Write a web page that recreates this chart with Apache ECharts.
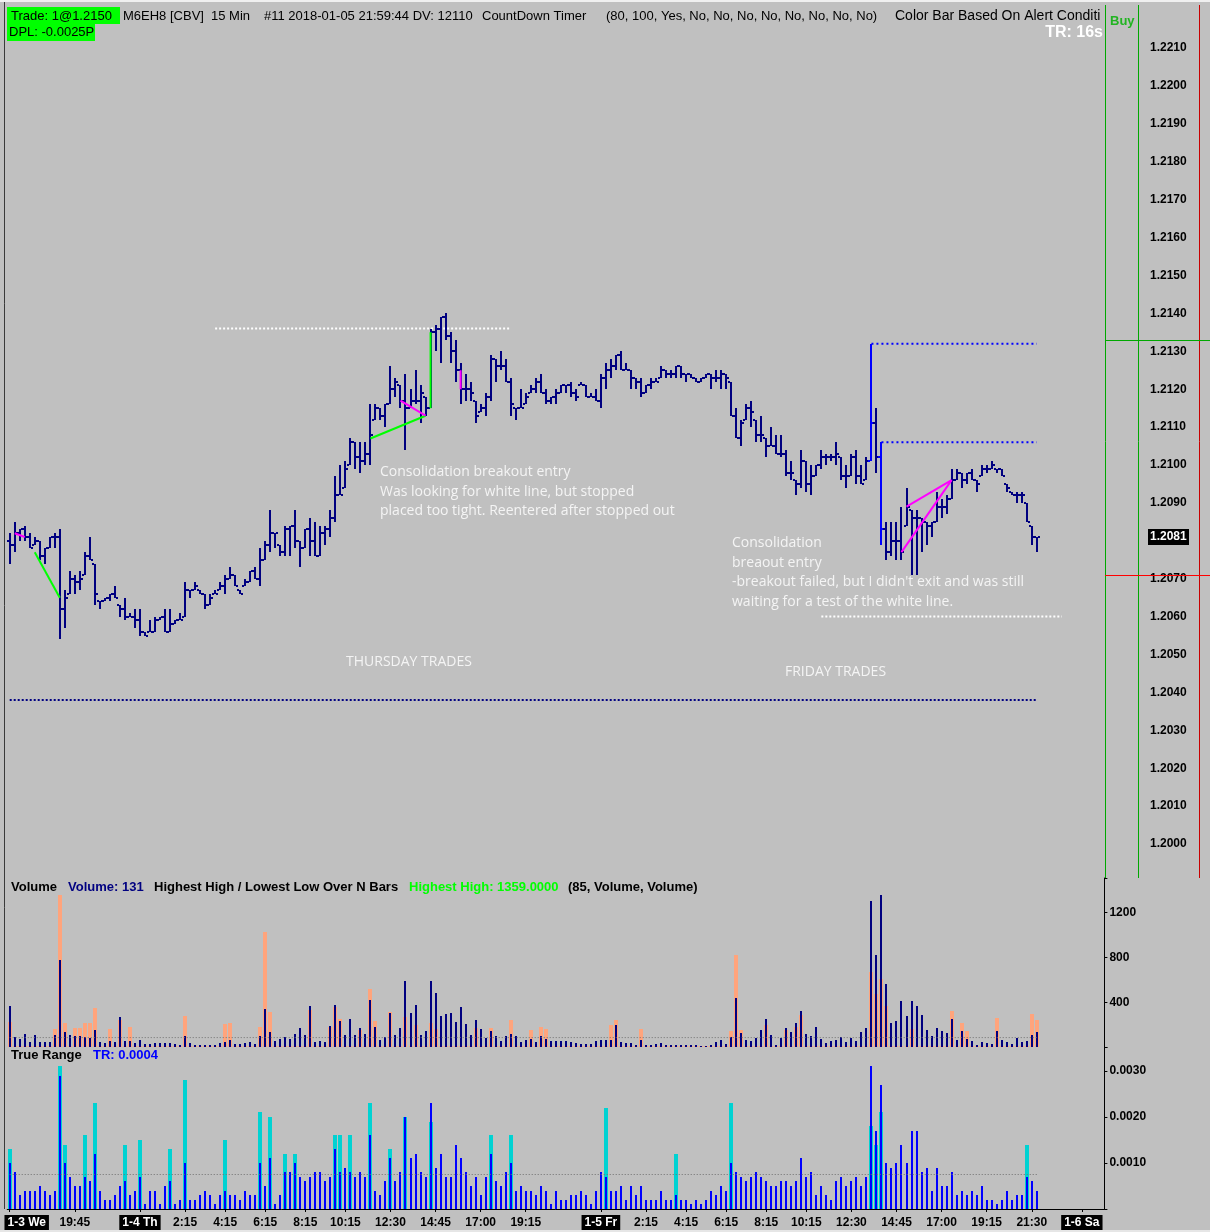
<!DOCTYPE html>
<html>
<head>
<meta charset="utf-8">
<title>M6EH8 15 Min</title>
<script src="https://cdn.jsdelivr.net/npm/echarts@6.0.0/dist/echarts.min.js"></script>
<style>
html,body{margin:0;padding:0;background:#c0c0c0;overflow:hidden;}
#chart{width:1210px;height:1232px;}
</style>
</head>
<body>
<div id="chart"></div>
<script>
// ---------------- DATA ----------------
const opens = [1.2080,1.2079,1.2082,1.2083,1.2081,1.2079,1.2080,1.2076,1.2078,1.2081,
1.2081,1.2062,1.2066,1.2070,1.2069,1.2071,1.2076,1.2074,1.2064,1.2064,
1.2065,1.2066,1.2063,1.2062,1.2060,1.2060,1.2059,1.2056,1.2056,1.2056,
1.2059,1.2060,1.2056,1.2058,1.2059,1.2060,1.2067,1.2067,1.2067,1.2066,
1.2063,1.2066,1.2067,1.2068,1.2070,1.2071,1.2067,1.2068,1.2069,1.2072,
1.2070,1.2075,1.2079,1.2082,1.2079,1.2077,1.2083,1.2084,1.2080,1.2078,
1.2083,1.2080,1.2076,1.2082,1.2083,1.2086,1.2092,1.2094,1.2100,1.2106,
1.2102,1.2101,1.2103,1.2112,1.2115,1.2113,1.2116,1.2120,1.2121,1.2117,
1.2115,1.2117,1.2117,1.2118,1.2115,1.2135,1.2136,1.2139,1.2134,1.2130,
1.2125,1.2120,1.2120,1.2117,1.2114,1.2115,1.2118,1.2128,1.2126,1.2126,
1.2122,1.2115,1.2115,1.2116,1.2119,1.2120,1.2122,1.2119,1.2117,1.2118,
1.2119,1.2121,1.2121,1.2119,1.2121,1.2121,1.2118,1.2118,1.2117,1.2123,
1.2125,1.2126,1.2129,1.2125,1.2125,1.2123,1.2122,1.2119,1.2121,1.2122,
1.2123,1.2125,1.2124,1.2124,1.2126,1.2124,1.2124,1.2123,1.2122,1.2123,
1.2124,1.2123,1.2123,1.2124,1.2122,1.2113,1.2107,1.2112,1.2115,1.2112,
1.2108,1.2107,1.2105,1.2105,1.2103,1.2103,1.2098,1.2096,1.2095,1.2101,
1.2095,1.2097,1.2100,1.2102,1.2102,1.2102,1.2102,1.2097,1.2097,1.2102,
1.2097,1.2096,1.2101,1.2111,1.2102,1.2083,1.2077,1.2080,1.2080,1.2084,
1.2088,1.2086,1.2086,1.2085,1.2084,1.2085,1.2089,1.2089,1.2091,1.2096,
1.2098,1.2096,1.2098,1.2096,1.2097,1.2099,1.2099,1.2099,1.2099,1.2095,
1.2093,1.2092,1.2092,1.2090,1.2084,1.2081];
const highs = [1.2082,1.2085,1.2083,1.2084,1.2082,1.2081,1.2080,1.2078,1.2081,1.2082,
1.2083,1.2067,1.2072,1.2071,1.2072,1.2077,1.2081,1.2074,1.2064,1.2065,
1.2066,1.2068,1.2063,1.2065,1.2061,1.2062,1.2062,1.2056,1.2059,1.2060,
1.2060,1.2062,1.2062,1.2059,1.2061,1.2069,1.2067,1.2069,1.2067,1.2066,
1.2066,1.2067,1.2069,1.2071,1.2073,1.2071,1.2067,1.2070,1.2072,1.2073,
1.2078,1.2080,1.2088,1.2082,1.2079,1.2084,1.2084,1.2088,1.2080,1.2083,
1.2086,1.2085,1.2084,1.2084,1.2088,1.2097,1.2100,1.2101,1.2107,1.2106,
1.2106,1.2106,1.2116,1.2116,1.2115,1.2116,1.2126,1.2123,1.2121,1.2124,
1.2120,1.2125,1.2121,1.2118,1.2136,1.2137,1.2139,1.2140,1.2135,1.2133,
1.2127,1.2124,1.2122,1.2117,1.2116,1.2119,1.2129,1.2128,1.2130,1.2128,
1.2123,1.2115,1.2120,1.2119,1.2121,1.2123,1.2124,1.2120,1.2118,1.2120,
1.2121,1.2121,1.2122,1.2120,1.2122,1.2121,1.2119,1.2120,1.2124,1.2127,
1.2128,1.2129,1.2130,1.2127,1.2125,1.2123,1.2123,1.2121,1.2123,1.2123,
1.2126,1.2125,1.2125,1.2126,1.2126,1.2124,1.2124,1.2123,1.2123,1.2124,
1.2124,1.2125,1.2125,1.2124,1.2122,1.2115,1.2112,1.2116,1.2117,1.2112,
1.2113,1.2107,1.2110,1.2108,1.2108,1.2104,1.2101,1.2096,1.2104,1.2101,
1.2100,1.2100,1.2104,1.2103,1.2103,1.2106,1.2102,1.2100,1.2103,1.2104,
1.2100,1.2102,1.2132,1.2115,1.2106,1.2085,1.2085,1.2085,1.2089,1.2094,
1.2088,1.2088,1.2086,1.2085,1.2085,1.2093,1.2091,1.2092,1.2099,1.2099,
1.2098,1.2098,1.2099,1.2096,1.2100,1.2100,1.2101,1.2099,1.2099,1.2095,
1.2093,1.2093,1.2093,1.2090,1.2084,1.2081];
const lows = [1.2074,1.2077,1.2080,1.2080,1.2078,1.2079,1.2075,1.2074,1.2078,1.2078,
1.2054,1.2057,1.2066,1.2066,1.2067,1.2071,1.2075,1.2063,1.2062,1.2064,
1.2064,1.2065,1.2060,1.2059,1.2060,1.2057,1.2055,1.2055,1.2056,1.2056,
1.2059,1.2056,1.2056,1.2058,1.2059,1.2060,1.2065,1.2067,1.2066,1.2062,
1.2063,1.2066,1.2067,1.2066,1.2070,1.2068,1.2066,1.2068,1.2069,1.2070,
1.2068,1.2075,1.2077,1.2078,1.2076,1.2076,1.2076,1.2078,1.2073,1.2078,
1.2076,1.2076,1.2076,1.2079,1.2081,1.2085,1.2092,1.2094,1.2100,1.2099,
1.2098,1.2100,1.2100,1.2112,1.2112,1.2110,1.2116,1.2118,1.2115,1.2104,
1.2115,1.2116,1.2111,1.2113,1.2115,1.2130,1.2127,1.2133,1.2127,1.2122,
1.2116,1.2117,1.2117,1.2111,1.2114,1.2113,1.2117,1.2122,1.2125,1.2122,
1.2113,1.2112,1.2115,1.2116,1.2119,1.2119,1.2119,1.2116,1.2116,1.2116,
1.2119,1.2119,1.2118,1.2117,1.2121,1.2118,1.2118,1.2117,1.2115,1.2120,
1.2123,1.2125,1.2125,1.2125,1.2120,1.2120,1.2118,1.2119,1.2120,1.2122,
1.2123,1.2123,1.2123,1.2123,1.2123,1.2122,1.2123,1.2122,1.2122,1.2123,
1.2120,1.2122,1.2120,1.2120,1.2113,1.2107,1.2105,1.2112,1.2110,1.2106,
1.2106,1.2102,1.2105,1.2103,1.2102,1.2097,1.2096,1.2092,1.2094,1.2093,
1.2092,1.2097,1.2099,1.2100,1.2101,1.2100,1.2096,1.2094,1.2097,1.2095,
1.2095,1.2096,1.2101,1.2098,1.2079,1.2075,1.2076,1.2075,1.2075,1.2084,
1.2071,1.2071,1.2077,1.2079,1.2081,1.2085,1.2086,1.2087,1.2091,1.2096,
1.2094,1.2095,1.2096,1.2093,1.2097,1.2098,1.2099,1.2098,1.2097,1.2093,
1.2092,1.2090,1.2090,1.2085,1.2079,1.2077];
const closes = [1.2079,1.2082,1.2083,1.2081,1.2078,1.2080,1.2076,1.2078,1.2081,1.2081,
1.2062,1.2065,1.2070,1.2069,1.2070,1.2076,1.2075,1.2066,1.2064,1.2065,
1.2066,1.2065,1.2062,1.2060,1.2060,1.2059,1.2056,1.2055,1.2056,1.2059,
1.2060,1.2056,1.2058,1.2059,1.2059,1.2067,1.2067,1.2068,1.2066,1.2063,
1.2065,1.2066,1.2068,1.2070,1.2071,1.2068,1.2066,1.2069,1.2072,1.2070,
1.2075,1.2079,1.2082,1.2082,1.2077,1.2083,1.2084,1.2080,1.2078,1.2083,
1.2080,1.2076,1.2082,1.2083,1.2086,1.2092,1.2092,1.2099,1.2106,1.2102,
1.2101,1.2103,1.2108,1.2115,1.2113,1.2116,1.2120,1.2122,1.2117,1.2115,
1.2117,1.2117,1.2119,1.2115,1.2135,1.2136,1.2139,1.2134,1.2130,1.2125,
1.2120,1.2120,1.2119,1.2113,1.2115,1.2118,1.2128,1.2126,1.2126,1.2122,
1.2116,1.2115,1.2115,1.2118,1.2120,1.2122,1.2119,1.2117,1.2118,1.2119,
1.2121,1.2121,1.2119,1.2118,1.2121,1.2118,1.2118,1.2117,1.2123,1.2125,
1.2126,1.2129,1.2125,1.2125,1.2123,1.2122,1.2119,1.2121,1.2122,1.2122,
1.2125,1.2124,1.2124,1.2126,1.2124,1.2124,1.2123,1.2122,1.2123,1.2124,
1.2123,1.2123,1.2124,1.2123,1.2113,1.2107,1.2111,1.2115,1.2114,1.2108,
1.2108,1.2105,1.2105,1.2103,1.2103,1.2098,1.2098,1.2095,1.2101,1.2095,
1.2097,1.2100,1.2102,1.2102,1.2102,1.2103,1.2097,1.2097,1.2102,1.2097,
1.2095,1.2101,1.2111,1.2102,1.2083,1.2077,1.2080,1.2080,1.2077,1.2089,
1.2086,1.2086,1.2085,1.2084,1.2085,1.2089,1.2089,1.2091,1.2096,1.2098,
1.2096,1.2098,1.2096,1.2095,1.2099,1.2099,1.2100,1.2099,1.2097,1.2094,
1.2092,1.2092,1.2092,1.2085,1.2081,1.2081];
// bars painted by "Color Bar Based On Alert Condition"
const alertBars = [172, 174];

const volume = [367,93,72,117,48,108,48,48,48,108,
778,135,108,102,99,87,84,153,48,33,
54,48,269,54,54,39,63,28,28,33,
39,39,39,28,22,99,33,22,22,22,
16,22,39,45,63,28,28,33,45,28,
99,340,135,57,72,87,72,117,170,108,
367,45,51,45,188,376,236,111,251,111,
170,117,420,179,63,87,307,111,170,593,
304,376,111,144,593,483,280,298,304,224,
358,206,111,242,161,81,144,102,51,102,
117,102,45,63,72,45,102,72,54,54,
54,54,45,36,28,28,28,54,63,63,
63,197,45,36,36,22,63,22,22,28,
36,22,22,22,22,22,22,22,13,13,
22,45,63,28,93,441,129,63,54,84,
153,251,111,22,84,173,135,215,322,117,
99,179,72,36,54,63,90,45,81,54,
135,170,1304,822,1359,563,215,233,411,277,
411,367,286,153,99,170,144,126,251,63,
144,72,54,19,45,36,28,144,63,45,
28,81,45,54,108,131];
const volumeHighlight = [227,0,0,0,0,0,0,0,0,158,
1358,212,0,173,173,212,212,352,0,0,
158,0,242,0,176,0,0,0,0,0,
0,0,0,0,0,277,0,0,0,0,
0,0,0,206,212,0,0,0,0,0,
176,1027,310,0,0,0,0,0,0,0,
331,0,0,0,176,355,251,0,0,0,
153,0,519,233,0,0,316,0,0,266,
0,197,0,0,218,158,0,0,0,0,
0,0,0,167,0,0,170,0,0,0,
242,0,0,0,153,0,176,158,0,0,
0,0,0,0,0,0,0,0,0,0,
197,242,0,0,0,0,158,0,0,0,
0,0,0,0,0,0,0,0,0,0,
0,0,0,0,141,822,153,0,0,0,
0,197,0,0,0,153,0,182,286,0,
0,0,0,0,0,0,0,0,0,0,
0,0,673,474,605,367,0,0,0,0,
161,0,0,0,0,0,0,0,322,0,
212,144,0,0,0,0,0,263,0,0,
0,0,0,0,295,242];
const volumeRefLevel = 85;

const trueRange = [0.0010,0.0008,0.0003,0.0004,0.0004,0.0004,0.0005,0.0004,0.0003,0.0004,
0.0029,0.0010,0.0007,0.0005,0.0005,0.0007,0.0006,0.0012,0.0004,0.0002,
0.0002,0.0003,0.0005,0.0006,0.0003,0.0004,0.0007,0.0001,0.0004,0.0004,
0.0001,0.0005,0.0006,0.0001,0.0002,0.0010,0.0002,0.0002,0.0003,0.0004,
0.0003,0.0001,0.0003,0.0004,0.0003,0.0003,0.0002,0.0004,0.0003,0.0003,
0.0010,0.0005,0.0011,0.0001,0.0003,0.0008,0.0008,0.0010,0.0007,0.0006,
0.0007,0.0008,0.0008,0.0006,0.0007,0.0013,0.0008,0.0009,0.0008,0.0007,
0.0008,0.0007,0.0016,0.0004,0.0003,0.0006,0.0011,0.0006,0.0008,0.0020,
0.0011,0.0012,0.0008,0.0007,0.0023,0.0009,0.0012,0.0007,0.0007,0.0014,
0.0011,0.0008,0.0005,0.0007,0.0003,0.0007,0.0012,0.0006,0.0005,0.0008,
0.0010,0.0004,0.0005,0.0004,0.0004,0.0003,0.0005,0.0004,0.0001,0.0004,
0.0002,0.0002,0.0003,0.0003,0.0004,0.0003,0.0001,0.0004,0.0008,0.0007,
0.0004,0.0004,0.0005,0.0002,0.0005,0.0003,0.0005,0.0002,0.0002,0.0002,
0.0004,0.0002,0.0002,0.0003,0.0002,0.0002,0.0001,0.0002,0.0001,0.0002,
0.0004,0.0003,0.0005,0.0004,0.0010,0.0008,0.0007,0.0006,0.0007,0.0008,
0.0007,0.0006,0.0005,0.0005,0.0006,0.0006,0.0005,0.0006,0.0011,0.0007,
0.0008,0.0003,0.0005,0.0003,0.0002,0.0006,0.0007,0.0005,0.0006,0.0007,
0.0005,0.0007,0.0031,0.0017,0.0027,0.0010,0.0009,0.0010,0.0014,0.0010,
0.0017,0.0017,0.0008,0.0009,0.0004,0.0009,0.0005,0.0005,0.0008,0.0003,
0.0004,0.0003,0.0004,0.0003,0.0005,0.0002,0.0002,0.0001,0.0002,0.0004,
0.0002,0.0003,0.0003,0.0007,0.0006,0.0004];
const trueRangeHighlight = [0.0013,0,0,0,0,0,0,0,0,0,
0.0031,0.0014,0,0,0,0.0016,0,0.0023,0,0,
0,0,0,0.0014,0,0,0.0015,0,0,0,
0,0,0.0013,0,0,0.0028,0,0,0,0,
0,0,0,0.0015,0,0,0,0,0,0,
0.0021,0,0.0020,0,0,0.0012,0,0.0012,0,0,
0,0,0,0,0,0.0016,0.0016,0,0.0016,0,
0,0,0.0023,0,0,0,0.0013,0,0,0.0020,
0,0,0,0,0.0019,0,0,0,0,0,
0,0,0,0,0,0,0.0016,0,0,0,
0.0016,0,0,0,0,0,0,0,0,0,
0,0,0,0,0,0,0,0,0,0.0022,
0,0,0,0,0,0,0,0,0,0,
0,0,0,0.0012,0,0,0,0,0,0,
0,0,0,0,0.0023,0,0,0,0,0,
0,0,0,0,0,0,0,0,0,0,
0,0,0,0,0,0,0,0,0,0,
0,0,0.0018,0.0014,0.0021,0,0,0,0,0,
0,0,0,0,0,0,0,0,0,0,
0,0,0,0,0,0,0,0,0,0,
0,0,0,0.0014,0,0];
const trueRangeRefLevel = 0.00075;

// x slots (15-minute bars plus empty future slots) and time-axis tick labels
const slotCount = 219;
const tickIndex = [0,13,26,35,43,51,59,67,76,85,94,103,118,127,135,143,151,159,168,177,186,195,204,214];
const tickText = ['1-3 We','19:45','1-4 Th','2:15','4:15','6:15','8:15','10:15','12:30','14:45','17:00','19:15',
                  '1-5 Fr','2:15','4:15','6:15','8:15','10:15','12:30','14:45','17:00','19:15','21:30','1-6 Sa'];

// trade connector lines: [fromBar, fromPrice, toBar, toPrice]
const tradeSegments = [[1,1.2082,3,1.2081],[5,1.2077,10,1.2065],[72,1.2107,83,1.2113],[78,1.2117,83,1.2113],
                       [84,1.2115,84,1.2135],[90,1.2125,90,1.2120],[179,1.2089,188,1.2096],[178,1.2077,188,1.2096]];
const tradeKinds = ['short','long','long','short','long','short','short','short'];
// horizontal reference levels: [fromBar, toBar, price]
const levelSegments = [[41,100,1.2136],[162,210,1.2060],[0,205,1.2038],[172,205,1.2132],[174,205,1.2106]];
const levelKinds = ['white','white','navy','alert','alert'];
const orderBuyPrice = 1.2133;
const orderStopPrice = 1.2071;

// ---------------- CHART ----------------
const FONT = '"Liberation Sans", Arial, sans-serif';
const ANNO_FONT = '"Open Sans", "Noto Sans", sans-serif';
const chart = echarts.init(document.getElementById('chart'), null, {renderer: 'canvas'});
const cats = Array.from({length: slotCount}, (_, i) => String(i));
const tickSet = new Set(tickIndex);
const tickMap = {};
tickIndex.forEach((t, k) => { tickMap[t] = tickText[k]; });

const ohlcData = opens.map((o, i) => [i, o, highs[i], lows[i], closes[i]]);

function renderOHLC(params, api) {
  const i = api.value(0);
  const pO = api.coord([i, api.value(1)]);
  const pH = api.coord([i, api.value(2)]);
  const pL = api.coord([i, api.value(3)]);
  const pC = api.coord([i, api.value(4)]);
  const x = Math.round(pH[0]);
  const color = alertBars.indexOf(i) >= 0 ? '#0000ff' : '#000080';
  const top = Math.round(pH[1]);
  const h = Math.max(Math.round(pL[1]) - top, 2);
  return {type: 'group', children: [
    {type: 'rect', shape: {x: x - 1, y: top, width: 2, height: h}, style: {fill: color}},
    {type: 'rect', shape: {x: x - 3, y: Math.round(pO[1]) - 1, width: 2, height: 2}, style: {fill: color}},
    {type: 'rect', shape: {x: x + 1, y: Math.round(pC[1]) - 1, width: 2, height: 2}, style: {fill: color}}
  ]};
}
function histRenderer(width, color, drawZero) {
  return function (params, api) {
    const v = api.value(1);
    if (!v && !drawZero) return null;
    const p = api.coord([api.value(0), v]);
    const b = api.coord([api.value(0), 0]);
    const base = Math.round(b[1]);
    const hgt = Math.max(base - Math.round(p[1]), 1);
    return {type: 'rect', shape: {x: Math.round(p[0] - width / 2), y: base - hgt, width: width, height: hgt}, style: {fill: color}};
  };
}

const series = [];
series.push({type: 'custom', name: 'M6EH8', xAxisIndex: 0, yAxisIndex: 0, renderItem: renderOHLC,
  data: ohlcData, encode: {x: 0, y: [1, 2, 3, 4]}, z: 5, silent: true});

const levelStyle = {
  white: {color: '#ffffff', width: 2, type: [2, 2]},
  navy: {color: '#000080', width: 2, type: [2, 2]},
  alert: {color: '#0000ff', width: 2, type: [2, 3]}
};
levelSegments.forEach((s, k) => {
  series.push({type: 'line', xAxisIndex: 0, yAxisIndex: 0, data: [[s[0], s[2]], [s[1], s[2]]],
    showSymbol: false, symbol: 'none', lineStyle: levelStyle[levelKinds[k]], silent: true, z: 3, animation: false});
});
const tradeColor = {long: '#00ff00', short: '#ff00ff'};
tradeSegments.forEach((s, k) => {
  series.push({type: 'line', xAxisIndex: 0, yAxisIndex: 0, data: [[s[0], s[1]], [s[2], s[3]]],
    showSymbol: false, symbol: 'none', lineStyle: {color: tradeColor[tradeKinds[k]], width: 2}, silent: true, z: 6, animation: false});
});

series.push({type: 'custom', xAxisIndex: 1, yAxisIndex: 1, renderItem: histRenderer(4, '#ffa47c', true),
  data: volumeHighlight.map((v, i) => [i, v]), encode: {x: 0, y: 1}, z: 2, silent: true});
series.push({type: 'custom', xAxisIndex: 1, yAxisIndex: 1, renderItem: histRenderer(2, '#000080', true),
  data: volume.map((v, i) => [i, v]), encode: {x: 0, y: 1}, z: 3, silent: true});
series.push({type: 'line', xAxisIndex: 1, yAxisIndex: 1, data: [[0, volumeRefLevel], [volume.length - 1, volumeRefLevel]],
  showSymbol: false, symbol: 'none', lineStyle: {color: '#707070', width: 1, type: [1, 2]}, silent: true, z: 4, animation: false});

series.push({type: 'custom', xAxisIndex: 2, yAxisIndex: 2, renderItem: histRenderer(4, '#00d2d2', false),
  data: trueRangeHighlight.map((v, i) => [i, v]), encode: {x: 0, y: 1}, z: 2, silent: true});
series.push({type: 'custom', xAxisIndex: 2, yAxisIndex: 2, renderItem: histRenderer(2, '#0000ff', true),
  data: trueRange.map((v, i) => [i, v]), encode: {x: 0, y: 1}, z: 3, silent: true});
series.push({type: 'line', xAxisIndex: 2, yAxisIndex: 2, data: [[0, trueRangeRefLevel], [trueRange.length - 1, trueRangeRefLevel]],
  showSymbol: false, symbol: 'none', lineStyle: {color: '#707070', width: 1, type: [1, 2]}, silent: true, z: 4, animation: false});

const gridBase = {left: 7.2, right: 105.6, outerBoundsMode: 'none', containLabel: false};
const hiddenX = (g) => ({type: 'category', gridIndex: g, data: cats, boundaryGap: true, show: false});
const axisLabelBase = {color: '#000', fontFamily: FONT, fontWeight: 'bold', fontSize: 12};

const option = {
  backgroundColor: '#c0c0c0',
  animation: false,
  grid: [
    Object.assign({top: 2.6, height: 879.3}, gridBase),
    Object.assign({top: 878, height: 169.1}, gridBase),
    Object.assign({top: 1047.1, height: 161.9}, gridBase)
  ],
  xAxis: [
    hiddenX(0), hiddenX(1),
    {type: 'category', gridIndex: 2, data: cats, boundaryGap: true,
      axisLine: {show: true, lineStyle: {color: '#000', width: 1}},
      axisTick: {show: true, alignWithLabel: true, length: 3, interval: (i) => tickSet.has(i), lineStyle: {color: '#000'}},
      axisLabel: Object.assign({}, axisLabelBase, {
        interval: (i) => tickSet.has(i), margin: 6, hideOverlap: false,
        formatter: function (v) {
          const idx = Number(v);
          const t = tickMap[idx];
          if (t === undefined) return '';
          if (t.indexOf('-') >= 0) return idx === 0 ? '{sp| }{d|' + t + '}' : '{d|' + t + '}';
          return '{t|' + t + '}';
        },
        rich: {
          d: {backgroundColor: '#000', color: '#fff', fontFamily: FONT, fontWeight: 'bold', fontSize: 12, padding: [2, 3, 2, 3]},
          t: {color: '#000', fontFamily: FONT, fontWeight: 'bold', fontSize: 12, padding: [2, 0, 2, 0]},
          sp: {width: 34, fontSize: 12}
        }
      }),
      splitLine: {show: false}}
  ],
  yAxis: [
    {type: 'value', gridIndex: 0, position: 'right', min: 1.199, max: 1.2222, interval: 0.001,
      axisLine: {show: false}, axisTick: {show: false}, splitLine: {show: false},
      axisLabel: Object.assign({}, axisLabelBase, {margin: 45.6, align: 'left',
        formatter: (v) => (v < 1.1995 || v > 1.2215) ? '' : v.toFixed(4)})},
    {type: 'value', gridIndex: 1, position: 'right', min: 0, max: 1510, interval: 400,
      axisLine: {show: true, lineStyle: {color: '#000'}}, axisTick: {show: true, length: 3, lineStyle: {color: '#000'}},
      splitLine: {show: false},
      axisLabel: Object.assign({}, axisLabelBase, {margin: 5, align: 'left',
        formatter: (v) => (v > 0 && v <= 1200) ? String(Math.round(v)) : ''})},
    {type: 'value', gridIndex: 2, position: 'right', min: 0, max: 0.00352, interval: 0.001,
      axisLine: {show: true, lineStyle: {color: '#000'}}, axisTick: {show: true, length: 3, lineStyle: {color: '#000'}},
      splitLine: {show: false},
      axisLabel: Object.assign({}, axisLabelBase, {margin: 5, align: 'left',
        formatter: (v) => (v > 0.00005 && v < 0.0031) ? v.toFixed(4) : ''})}
  ],
  series: series
};
chart.setOption(option);

// ---------------- DECORATION ----------------
const yBuy = chart.convertToPixel({yAxisIndex: 0}, orderBuyPrice);
const yStop = chart.convertToPixel({yAxisIndex: 0}, orderStopPrice);
const lastPrice = closes[closes.length - 1];
const yLast = chart.convertToPixel({yAxisIndex: 0}, lastPrice);

const HEAD = '13px ' + FONT;
function txt(text, x, y, opts) {
  return {type: 'text', z: 100, silent: true, style: Object.assign({text: text, x: x, y: y, fill: '#000',
    font: HEAD, verticalAlign: 'middle', align: 'left'}, opts || {})};
}
const annoStyle = {fill: '#f4f4f4', font: '14px ' + ANNO_FONT};
const graphics = [
  {type: 'rect', z: 90, silent: true, shape: {x: 0, y: 0, width: 1210, height: 2}, style: {fill: '#f0f0f0'}},
  {type: 'rect', z: 90, silent: true, shape: {x: 0, y: 1230, width: 1210, height: 2}, style: {fill: '#e6e6e6'}},
  {type: 'line', z: 90, silent: true, shape: {x1: 4.5, y1: 2, x2: 4.5, y2: 1209}, style: {stroke: '#3a3a3a', lineWidth: 1}},
  {type: 'line', z: 90, silent: true, shape: {x1: 1105.5, y1: 5, x2: 1105.5, y2: 878}, style: {stroke: '#00a800', lineWidth: 1}},
  {type: 'line', z: 90, silent: true, shape: {x1: 1138.5, y1: 5, x2: 1138.5, y2: 878}, style: {stroke: '#00a800', lineWidth: 1}},
  {type: 'line', z: 90, silent: true, shape: {x1: 1199.5, y1: 5, x2: 1199.5, y2: 878}, style: {stroke: '#c80000', lineWidth: 1}},
  {type: 'line', z: 90, silent: true, shape: {x1: 1105, y1: Math.round(yBuy) + 0.5, x2: 1210, y2: Math.round(yBuy) + 0.5}, style: {stroke: '#00a800', lineWidth: 1}},
  {type: 'line', z: 90, silent: true, shape: {x1: 1105, y1: Math.round(yStop) + 0.5, x2: 1210, y2: Math.round(yStop) + 0.5}, style: {stroke: '#ff0000', lineWidth: 1}},
  // header
  {type: 'rect', z: 95, silent: true, shape: {x: 7, y: 7, width: 113, height: 17}, style: {fill: '#00ff00'}},
  {type: 'rect', z: 95, silent: true, shape: {x: 7, y: 24, width: 88, height: 17}, style: {fill: '#00ff00'}},
  txt('Trade: 1@1.2150', 11, 16),
  txt('DPL: -0.0025P', 9, 32.5),
  txt('M6EH8 [CBV]', 123, 16),
  txt('15 Min', 211, 16),
  txt('#11 2018-01-05 21:59:44 DV: 12110', 264, 16),
  txt('CountDown Timer', 482, 16),
  txt('(80, 100, Yes, No, No, No, No, No, No, No, No)', 606, 16),
  txt('Color Bar Based On Alert Conditi', 895, 16, {font: '14px ' + FONT, width: 209, overflow: 'truncate', ellipsis: ''}),
  txt('TR: 16s', 1103, 33, {fill: '#ffffff', font: 'bold 16px ' + FONT, align: 'right'}),
  txt('Buy', 1110, 21, {fill: '#22b422', font: 'bold 13px ' + FONT}),
  // price marker
  {type: 'rect', z: 95, silent: true, shape: {x: 1148, y: Math.round(yLast) - 8, width: 41, height: 16}, style: {fill: '#000'}},
  txt(lastPrice.toFixed(4), 1150, Math.round(yLast), {fill: '#fff', font: 'bold 12px ' + FONT}),
  // sub-panel titles
  txt('Volume', 11, 887, {font: 'bold 13px ' + FONT}),
  txt('Volume: 131', 68, 887, {font: 'bold 13px ' + FONT, fill: '#000080'}),
  txt('Highest High / Lowest Low Over N Bars', 154, 887, {font: 'bold 13px ' + FONT}),
  txt('Highest High: 1359.0000', 409, 887, {font: 'bold 13px ' + FONT, fill: '#00ff00'}),
  txt('(85, Volume, Volume)', 568, 887, {font: 'bold 13px ' + FONT}),
  txt('True Range', 11, 1055, {font: 'bold 13px ' + FONT}),
  txt('TR: 0.0004', 93, 1055, {font: 'bold 13px ' + FONT, fill: '#0000ff'}),
  // annotations
  txt('Consolidation breakout entry', 380, 472, annoStyle),
  txt('Was looking for white line, but stopped', 380, 492, annoStyle),
  txt('placed too tight. Reentered after stopped out', 380, 511, annoStyle),
  txt('Consolidation', 732, 543, annoStyle),
  txt('breaout entry', 732, 563, annoStyle),
  txt("-breakout failed, but I didn't exit and was still", 732, 582, annoStyle),
  txt('waiting for a test of the white line.', 732, 602, annoStyle),
  txt('THURSDAY TRADES', 346, 662, annoStyle),
  txt('FRIDAY TRADES', 785, 672, annoStyle)
];
chart.setOption({graphic: graphics});
</script>
</body>
</html>
